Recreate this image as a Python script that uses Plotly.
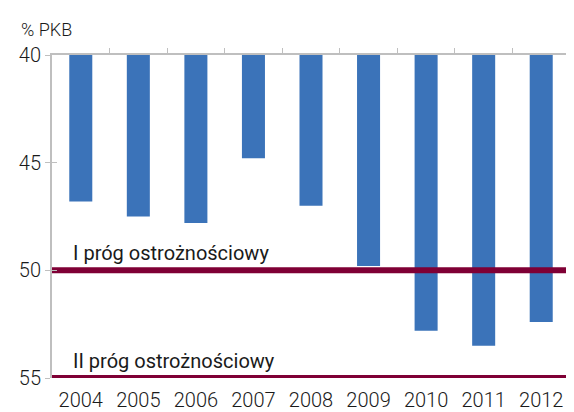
import plotly.graph_objects as go

years = ["2004", "2005", "2006", "2007", "2008", "2009", "2010", "2011", "2012"]
debt = [46.8, 47.5, 47.8, 44.8, 47.0, 49.8, 52.8, 53.5, 52.4]
base_level = 40
threshold_labels = ["I próg ostrożnościowy", "II próg ostrożnościowy"]
thresholds = [50, 55]
y_ticks = [40, 45, 50, 55]

bar_color = "#3B73B9"
line_color = "#7F0035"
font_family = "Roboto, sans-serif"

fig = go.Figure()
xs = list(range(len(years)))
fig.add_trace(go.Bar(
    x=xs, y=[v - base_level for v in debt], base=base_level,
    marker=dict(color=bar_color, line=dict(width=0)),
    width=0.4, showlegend=False, hoverinfo="skip",
))
for t in thresholds:
    fig.add_trace(go.Scatter(
        x=[-0.5, len(years) - 0.5], y=[t, t], mode="lines", cliponaxis=False,
        line=dict(color=line_color, width=6), showlegend=False, hoverinfo="skip",
    ))
# top axis with category-boundary ticks, and inner half of crossing y ticks
fig.add_trace(go.Scatter(x=[0], y=[None], xaxis="x2", showlegend=False, hoverinfo="skip"))
fig.add_trace(go.Scatter(x=[0], y=[None], yaxis="y2", showlegend=False, hoverinfo="skip"))

for lbl, t in zip(threshold_labels, thresholds):
    fig.add_annotation(
        x=-0.5, y=t, xref="x", yref="y", text=lbl, showarrow=False,
        xanchor="left", yanchor="bottom", xshift=19, yshift=3,
        font=dict(family=font_family, size=20, color="#1a1a1a"),
    )

fig.add_annotation(
    x=0, y=1, xref="paper", yref="paper", text="% PKB", showarrow=False,
    xanchor="left", yanchor="bottom", xshift=-33, yshift=13,
    font=dict(family=font_family, size=18, color="#1a1a1a", weight=300),
)

fig.update_layout(
    width=566, height=404,
    margin=dict(l=44, r=4, t=47, b=34, autoexpand=False),
    paper_bgcolor="white", plot_bgcolor="white",
    font=dict(family=font_family, size=19, color="#1a1a1a"),
    xaxis=dict(
        range=[-0.5, len(years) - 0.5], tickvals=xs, ticktext=years,
        showline=False, showgrid=False, zeroline=False,
        ticks="outside", ticklen=4, tickcolor="rgba(0,0,0,0)",
        tickfont=dict(size=20, weight=300), automargin=False,
    ),
    xaxis2=dict(
        overlaying="x", side="top", range=[-0.5, len(years) - 0.5],
        tickvals=[i + 0.5 for i in range(len(years) - 1)], showticklabels=False,
        ticks="outside", ticklen=5, tickcolor="#bfbfbf", showline=True,
        linecolor="#bfbfbf", linewidth=2, showgrid=False, zeroline=False,
        automargin=False,
    ),
    yaxis=dict(
        range=[55, 40], tickvals=y_ticks, showline=True, linecolor="#bfbfbf",
        linewidth=2, ticks="outside", ticklen=5, tickcolor="#bfbfbf",
        showgrid=False, zeroline=False, tickfont=dict(size=20, weight=300),
        automargin=False,
    ),
    yaxis2=dict(
        overlaying="y", side="left", range=[55, 40], tickvals=y_ticks,
        showticklabels=False, ticks="inside", ticklen=5, tickcolor="#bfbfbf",
        showline=False, showgrid=False, zeroline=False, automargin=False,
    ),
)
fig.write_html("out.html")
